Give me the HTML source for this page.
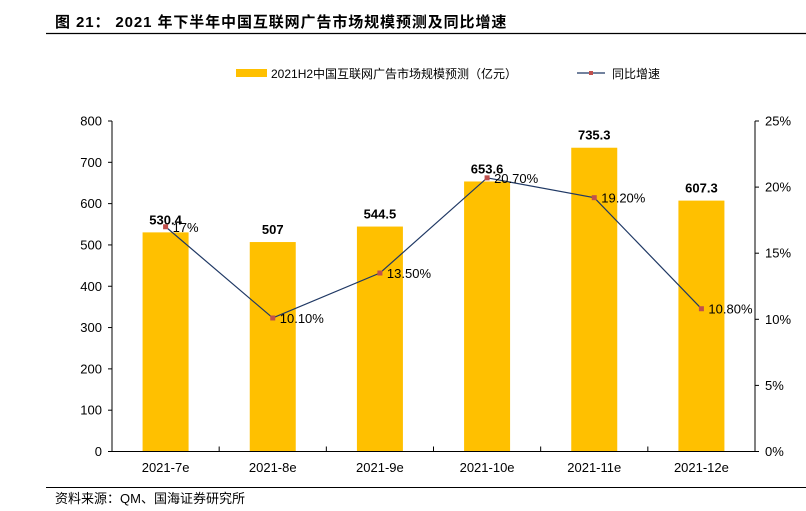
<!DOCTYPE html>
<html><head><meta charset="utf-8">
<style>
body{margin:0;background:#fff;width:806px;height:511px;overflow:hidden;font-family:"Liberation Sans","Noto Sans CJK SC",sans-serif;}
svg{display:block}
</style></head>
<body>
<svg id="chart" width="806" height="511" xmlns="http://www.w3.org/2000/svg">
<text x="55" y="27" font-size="15" font-weight="bold" letter-spacing="0.9" fill="#000" font-family="Liberation Sans, Noto Sans CJK SC, sans-serif">图 21：  2021 年下半年中国互联网广告市场规模预测及同比增速</text>
<line x1="46" y1="33.5" x2="806" y2="33.5" stroke="#000" stroke-width="1.2"/>
<g>
<rect x="236" y="69" width="31" height="8" fill="#FFC000"/>
<text x="271" y="78" font-size="12" fill="#000">2021H2中国互联网广告市场规模预测（亿元）</text>
<line x1="577" y1="73" x2="605" y2="73" stroke="#1F3864" stroke-width="1.2"/>
<rect x="589" y="71" width="4" height="4" fill="#C0504D"/>
<text x="612" y="78" font-size="12" fill="#000">同比增速</text>
</g>
<g id="plot"></g>
<line x1="46" y1="487.5" x2="806" y2="487.5" stroke="#000" stroke-width="1"/>
<text x="55" y="503" font-size="13" fill="#000">资料来源：QM、国海证券研究所</text>
</svg>
<script>
const categories=["2021-7e","2021-8e","2021-9e","2021-10e","2021-11e","2021-12e"];
const barValues=[530.4,507,544.5,653.6,735.3,607.3];
const barLabels=["530.4","507","544.5","653.6","735.3","607.3"];
const growthValues=[17,10.1,13.5,20.7,19.2,10.8];
const growthLabels=["17%","10.10%","13.50%","20.70%","19.20%","10.80%"];
const leftTicks=[0,100,200,300,400,500,600,700,800];
const rightTicks=[0,5,10,15,20,25];
const rightTickLabels=["0%","5%","10%","15%","20%","25%"];

const NS="http://www.w3.org/2000/svg";
const g=document.getElementById("plot");
const X0=112,X1=755,Y0=451.5,Y1=121;
const band=(X1-X0)/categories.length;
const xC=i=>X0+band*(i+0.5);
const yL=v=>Y0-(v/800)*(Y0-Y1);
const yR=v=>Y0-(v/25)*(Y0-Y1);
function mk(tag,attrs,text){const e=document.createElementNS(NS,tag);for(const k in attrs)e.setAttribute(k,attrs[k]);if(text!==undefined)e.textContent=text;g.appendChild(e);return e;}

barValues.forEach((v,i)=>{
  const r=mk("rect",{x:xC(i)-23,y:yL(v),width:46,height:Y0-yL(v),fill:"#FFC000"});
  
  
  const t=mk("text",{x:xC(i),y:yL(v)-8,"font-size":13,"font-weight":"bold","text-anchor":"middle"},barLabels[i]);
  
  
});
let a=mk("line",{x1:X0,y1:Y1,x2:X0,y2:Y0,stroke:"#000","stroke-width":1});


a=mk("line",{x1:X1,y1:Y1,x2:X1,y2:Y0,stroke:"#000","stroke-width":1});


a=mk("line",{x1:X0,y1:Y0,x2:X1,y2:Y0,stroke:"#000","stroke-width":1});


leftTicks.forEach(v=>{
  const l=mk("line",{x1:X0-4,y1:yL(v),x2:X0,y2:yL(v),stroke:"#000"});
  
  
  const t=mk("text",{x:X0-10,y:yL(v)+4.5,"font-size":13,"text-anchor":"end"},String(v));
  
  
});
rightTicks.forEach((v,i)=>{
  const l=mk("line",{x1:X1,y1:yR(v),x2:X1+4,y2:yR(v),stroke:"#000"});
  
  
  const t=mk("text",{x:X1+10,y:yR(v)+4.5,"font-size":13},rightTickLabels[i]);
  
  
});
for(let i=0;i<=categories.length;i++){
  const l=mk("line",{x1:X0+band*i,y1:Y0-5,x2:X0+band*i,y2:Y0,stroke:"#000"});
  
  
}
categories.forEach((c,i)=>{
  const t=mk("text",{x:xC(i),y:472,"font-size":13,"text-anchor":"middle"},c);
  
  
});
const pts=growthValues.map((v,i)=>xC(i)+","+yR(v)).join(" ");
const pl=mk("polyline",{points:pts,fill:"none",stroke:"#1F3864","stroke-width":1.2});


growthValues.forEach((v,i)=>{
  const m=mk("rect",{x:xC(i)-2.5,y:yR(v)-2.5,width:5,height:5,fill:"#C0504D"});
  
  
  const t=mk("text",{x:xC(i)+7,y:yR(v)+5,"font-size":13},growthLabels[i]);
  
  
});
</script>
</body></html>
